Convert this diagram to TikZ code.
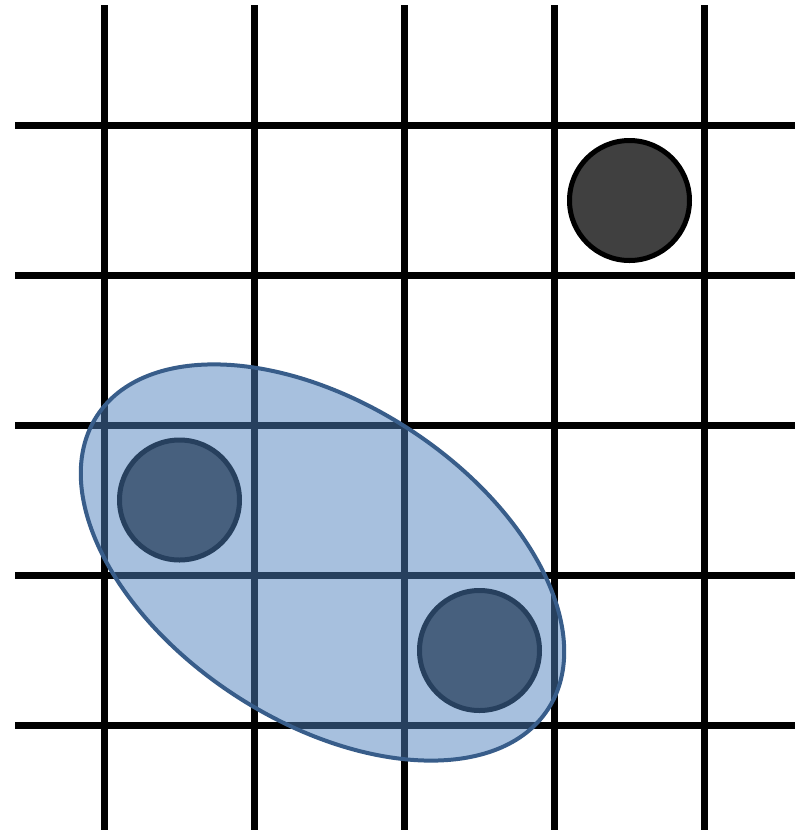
\documentclass[tikz,border=0pt]{standalone}
\usetikzlibrary{shapes.geometric}
\definecolor{pairfill}{HTML}{4F81BD}
\definecolor{pairline}{HTML}{385D8A}
\definecolor{stonefill}{HTML}{404040}
\begin{document}
\begin{tikzpicture}[
  x=1pt, y=-1pt,
  gridline/.style={line width=7pt},
  stone/.style={circle, draw=black, line width=5pt, fill=stonefill, minimum size=120pt, inner sep=0pt},
  pair/.style={ellipse, draw=pairline, line width=4pt, fill=pairfill, fill opacity=0.5,
    minimum width=538pt, minimum height=318pt, inner sep=0pt}
]
\useasboundingbox (0,0) rectangle (807,831);

% board
\foreach \k in {0,...,4} {
  \draw[gridline] (104+150*\k,5) -- (104+150*\k,830);
  \draw[gridline] (15,125+150*\k) -- (795,125+150*\k);
}

% stones
\node[stone] (lone) at (629.5,200.5) {};
\node[stone] (left) at (179.5,500) {};
\node[stone] (right) at (479.5,650.5) {};

% group round the two stones
\node[pair, rotate=-33] (group) at (322.5,562.5) {};
\end{tikzpicture}
\end{document}
